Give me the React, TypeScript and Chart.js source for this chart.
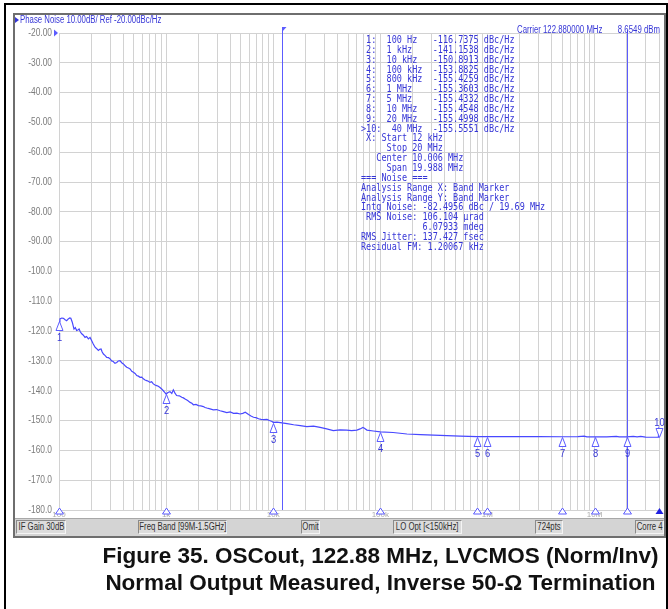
import React, { useEffect, useRef } from "react";
import { Chart, registerables } from "chart.js";

Chart.register(...registerables);

// ---------- data ----------
const traceFreqHz = [
  100, 102, 106, 110, 114, 118, 122, 126, 129, 133, 138, 142, 146, 150, 154, 158, 163, 168, 175, 181,
  188, 195, 202, 209, 217, 225, 233, 240, 247, 253, 260, 270, 279, 290, 300, 310, 321, 333, 346, 358,
  371, 385, 399, 414, 429, 445, 461, 478, 495, 513, 532, 551, 571, 592, 613, 636, 659, 683, 707, 733,
  760, 788, 817, 846, 877, 909, 942, 975, 1000, 1040, 1087, 1130, 1168, 1210, 1254, 1330, 1400, 1450,
  1505, 1590, 1676, 1740, 1798, 1900, 2003, 2110, 2230, 2310, 2397, 2570, 2760, 2960, 3190, 3430, 3690,
  3960, 4260, 4580, 4910, 5200, 5480, 5890, 6200, 6550, 6900, 7300, 7700, 8130, 8740, 9200, 9750, 10000,
  10850, 12090, 13460, 15520, 17890, 20600, 23800, 27400, 31600, 36400, 42000, 48600, 54000, 60400,
  64800, 68800, 71000, 75000, 86000, 100000, 131600, 177200, 236900, 362700, 556300, 800000, 1000000,
  1500000, 2000000, 3000000, 5000000, 7000000, 8000000, 8500000, 10000000, 13000000, 16000000, 17000000,
  20000000, 23000000, 25000000, 27000000, 30000000, 35000000, 39500000, 40000000,
];
const traceDbcHz = [
  -116.8, -115.9, -115.6, -115.7, -116.2, -116.5, -115.9, -115.6, -115.7, -117.0, -119.3, -118.8, -119.8, -119.6, -119.3, -120.2, -120.9, -121.3, -122.1, -121.8,
  -122.6, -122.1, -123.2, -124.3, -125.4, -125.9, -126.5, -126.1, -126.0, -127.0, -127.7, -128.2, -128.8, -128.9, -129.3, -130.0, -130.2, -130.8, -130.5, -130.0,
  -129.9, -130.6, -131.0, -131.6, -132.1, -132.4, -132.7, -133.5, -133.8, -134.2, -134.9, -135.1, -135.5, -135.4, -136.0, -136.4, -136.6, -136.8, -137.2, -137.0,
  -137.7, -138.1, -138.3, -138.5, -138.9, -139.4, -140.0, -140.6, -141.1, -140.6, -140.3, -140.9, -139.7, -140.8, -141.6, -141.7, -142.2, -142.4,
  -142.8, -143.3, -143.9, -144.2, -144.7, -144.6, -145.0, -145.1, -145.3, -145.6, -145.8, -146.1, -146.4, -146.3, -146.7, -147.0, -147.3,
  -147.1, -147.6, -147.5, -147.8, -147.6, -147.2, -148.0, -148.5, -148.9, -149.0, -149.4, -149.6, -149.7, -149.6, -150.0, -150.3, -150.6,
  -150.5, -150.8, -151.0, -151.4, -151.7, -152.0, -151.9, -152.3, -152.8, -153.4, -153.1, -153.2, -153.4, -153.2,
  -152.8, -152.3, -152.6, -153.2, -153.5, -153.8, -154.0, -154.5, -154.7, -155.0, -155.2, -155.4, -155.36,
  -155.4, -155.4, -155.42, -155.43, -155.4, -155.25, -155.45, -155.45, -155.5, -155.3, -155.5,
  -155.5, -155.3, -155.5, -155.3, -155.55, -155.6, -155.55, -152.0,
];

const markerIds = ["1", "2", "3", "4", "5", "6", "7", "8", "9", "10"];
const markerFreqHz = [100, 1e3, 1e4, 1e5, 8e5, 1e6, 5e6, 1e7, 2e7, 4e7];
const markerFreqText = ["100 Hz", "1 kHz", "10 kHz", "100 kHz", "800 kHz", "1 MHz", "5 MHz", "10 MHz", "20 MHz", "40 MHz"];
const markerDbcHz = [-116.7375, -141.1538, -150.8913, -153.8825, -155.4259, -155.3603, -155.4332, -155.4548, -155.4998, -155.5551];

const yTickValues = [-20, -30, -40, -50, -60, -70, -80, -90, -100, -110, -120, -130, -140, -150, -160, -170, -180];
const yTickLabels = ["-20.00", "-30.00", "-40.00", "-50.00", "-60.00", "-70.00", "-80.00", "-90.00", "-100.0", "-110.0", "-120.0", "-130.0", "-140.0", "-150.0", "-160.0", "-170.0", "-180.0"];
const xTickValues = [100, 1e3, 1e4, 1e5, 1e6, 1e7];
const xTickLabels = ["100", "1k", "10k", "100k", "1M", "10M"];

const refLevelDb = -20;
const bandStartHz = 12e3;
const bandStopHz = 20e6;
const xMinHz = 100;
const xMaxHz = 40e6;

const headerText = "Phase Noise 10.00dB/ Ref -20.00dBc/Hz";
const carrierText = "Carrier 122.880000 MHz";
const carrierPowerText = "8.6549 dBm";
const noiseSummaryLines = [
  " X: Start 12 kHz",
  "     Stop 20 MHz",
  "   Center 10.006 MHz",
  "     Span 19.988 MHz",
  "=== Noise ===",
  "Analysis Range X: Band Marker",
  "Analysis Range Y: Band Marker",
  "Intg Noise: -82.4956 dBc / 19.69 MHz",
  " RMS Noise: 106.104 \u00b5rad",
  "            6.07933 mdeg",
  "RMS Jitter: 137.427 fsec",
  "Residual FM: 1.20067 kHz",
];
const statusLabels = ["IF Gain 30dB", "Freq Band [99M-1.5GHz]", "Omit", "LO Opt [<150kHz]", "724pts", "Corre 4"];
const captionLines = [
  "Figure 35. OSCout, 122.88 MHz, LVCMOS (Norm/Inv)",
  "Normal Output Measured, Inverse 50-\u03a9 Termination",
];

// ---------- styles ----------
const TRACE_BLUE = "#4848ff";
const LINE_BLUE = "#5c5cff";
const TEXT_BLUE = "#3535d6";
const GRID = "#d2d2d2";
const SANS = '"Liberation Sans", Arial, sans-serif';
const SQUEEZE = 0.78;

function pad(s: string, n: number) {
  return s.length >= n ? s : s + " ".repeat(n - s.length);
}

const markerTableLines = markerIds.map((id, i) => {
  const idTxt = (i === 9 ? ">" : " ") + id + ":";
  const head = pad(idTxt, 4) + (i === 9 ? "  " : " ");
  return pad(head + markerFreqText[i], 14) + markerDbcHz[i].toFixed(4) + " dBc/Hz";
});
const tableLines = [...markerTableLines, ...noiseSummaryLines];

const statusBoxes = [
  { left: 16, width: 50 },
  { left: 138, width: 89 },
  { left: 301, width: 19 },
  { left: 393, width: 69 },
  { left: 535, width: 28 },
  { left: 635, width: 29 },
];

function NarrowText(props: { text: string; left?: number; right?: number; top: number; color: string; size?: number }) {
  const { text, left, right, top, color, size = 10 } = props;
  const style: any = {
    position: "absolute",
    top,
    font: `${size}px ${SANS}`,
    lineHeight: "12px",
    color,
    whiteSpace: "nowrap",
    transform: `scaleX(${SQUEEZE})`,
    transformOrigin: right !== undefined ? "100% 0" : "0 0",
  };
  if (left !== undefined) style.left = left;
  if (right !== undefined) style.right = right;
  return <div style={style}>{text}</div>;
}

export default function App() {
  const canvasRef = useRef<HTMLCanvasElement>(null);

  useEffect(() => {
    const canvas = canvasRef.current;
    if (!canvas) return;

    const decor = {
      id: "decor",
      afterDraw(chart: any) {
        const { ctx, chartArea: a, scales } = chart;
        const ys = scales.y;
        ctx.save();
        ctx.fillStyle = "#7c7c7c";
        ctx.font = `10px ${SANS}`;
        ctx.textAlign = "right";
        ctx.textBaseline = "middle";
        yTickValues.forEach((v, i) => {
          const py = ys.getPixelForValue(v);
          ctx.save();
          ctx.translate(a.left - 7, py);
          ctx.scale(0.84, 1);
          ctx.fillText(yTickLabels[i], 0, 0);
          ctx.restore();
        });
        ctx.restore();
      },
      afterDatasetsDraw(chart: any) {
        const { ctx, chartArea: a, scales } = chart;
        const xs = scales.x;
        const ys = scales.y;
        ctx.save();
        ctx.lineWidth = 1;
        ctx.strokeStyle = LINE_BLUE;
        ctx.fillStyle = LINE_BLUE;
        const xb1 = Math.round(xs.getPixelForValue(bandStartHz)) + 0.5;
        const xb2 = Math.round(xs.getPixelForValue(bandStopHz)) + 0.5;
        ctx.beginPath();
        ctx.moveTo(xb1, a.top - 4);
        ctx.lineTo(xb1, a.bottom);
        ctx.moveTo(xb2, a.top - 3);
        ctx.lineTo(xb2, a.bottom);
        ctx.stroke();
        // flag at band start
        ctx.beginPath();
        ctx.moveTo(xb1 - 0.5, a.top - 6);
        ctx.lineTo(xb1 + 4, a.top - 6);
        ctx.lineTo(xb1 - 0.5, a.top - 1);
        ctx.closePath();
        ctx.fill();
        // reference level arrow
        const yr = ys.getPixelForValue(refLevelDb);
        ctx.beginPath();
        ctx.moveTo(a.left - 5, yr - 3.5);
        ctx.lineTo(a.left - 1, yr);
        ctx.lineTo(a.left - 5, yr + 3.5);
        ctx.closePath();
        ctx.fill();

        ctx.font = `11px ${SANS}`;
        ctx.textAlign = "center";
        ctx.textBaseline = "middle";
        markerFreqHz.forEach((f, i) => {
          const px = Math.round(xs.getPixelForValue(f)) + 0.5;
          const py = Math.round(ys.getPixelForValue(markerDbcHz[i])) + 0.5;
          const last = i === markerFreqHz.length - 1;
          ctx.strokeStyle = LINE_BLUE;
          ctx.fillStyle = "#ffffff";
          ctx.beginPath();
          if (!last) {
            ctx.moveTo(px, py);
            ctx.lineTo(px - 3.5, py + 9);
            ctx.lineTo(px + 3.5, py + 9);
          } else {
            ctx.moveTo(px, py);
            ctx.lineTo(px - 3.5, py - 9);
            ctx.lineTo(px + 3.5, py - 9);
          }
          ctx.closePath();
          ctx.fill();
          ctx.stroke();
          ctx.fillStyle = TEXT_BLUE;
          ctx.save();
          ctx.translate(px, last ? py - 15 : py + 16);
          ctx.scale(0.85, 1);
          ctx.fillText(markerIds[i], 0, 0);
          ctx.restore();

          // bottom marker triangles
          const by = a.bottom;
          ctx.beginPath();
          ctx.moveTo(px, by - 2);
          ctx.lineTo(px - 4, by + 4);
          ctx.lineTo(px + 4, by + 4);
          ctx.closePath();
          if (last) {
            ctx.fillStyle = "#2020e0";
            ctx.fill();
          } else {
            ctx.fillStyle = "#ffffff";
            ctx.fill();
            ctx.stroke();
          }
        });
        ctx.restore();
      },
    };

    const chart = new Chart(canvas, {
      type: "line",
      data: {
        datasets: [
          {
            data: traceFreqHz.map((f, i) => ({ x: f, y: traceDbcHz[i] })),
            borderColor: TRACE_BLUE,
            borderWidth: 1.2,
            pointRadius: 0,
            tension: 0,
            fill: false,
          },
        ],
      },
      options: {
        animation: false,
        responsive: false,
        devicePixelRatio: 1,
        layout: { padding: { left: 0, right: 9, top: 33, bottom: 87 } },
        plugins: { legend: { display: false }, tooltip: { enabled: false }, title: { display: false } },
        scales: {
          x: {
            type: "logarithmic",
            min: xMinHz,
            max: xMaxHz,
            border: { display: false },
            grid: { color: GRID, drawTicks: false, lineWidth: 1 },
            afterBuildTicks: (scale: any) => {
              const t: { value: number }[] = [];
              for (let d = 100; d <= 1e7; d *= 10) {
                for (let m = 1; m <= 9; m++) {
                  const v = m * d;
                  if (v <= xMaxHz) t.push({ value: v });
                }
              }
              scale.ticks = t;
            },
            afterFit: (scale: any) => {
              scale.height = 12;
            },
            ticks: {
              autoSkip: false,
              maxRotation: 0,
              padding: 0,
              color: "#ababab",
              font: { size: 8, family: SANS },
              callback: (v: any) => {
                const i = xTickValues.indexOf(Number(v));
                return i >= 0 ? xTickLabels[i] : "";
              },
            },
          },
          y: {
            type: "linear",
            min: -180,
            max: -20,
            border: { display: false },
            grid: { color: GRID, drawTicks: false, lineWidth: 1 },
            afterFit: (scale: any) => {
              scale.width = 59;
            },
            ticks: {
              stepSize: 10,
              padding: 7,
              color: "rgba(0,0,0,0)",
              font: { size: 10, family: SANS },
              callback: (v: any) => {
                const i = yTickValues.indexOf(Number(v));
                return i >= 0 ? yTickLabels[i] : "";
              },
            },
          },
        },
      },
      plugins: [decor],
    } as any);

    return () => chart.destroy();
  }, []);

  return (
    <div style={{ position: "absolute", left: 0, top: 0, width: 668, height: 609, background: "#fff", overflow: "hidden" }}>
      {/* outer frame */}
      <div style={{ position: "absolute", left: 4, top: 3, width: 660, height: 640, border: "2px solid #000" }} />
      {/* instrument panel */}
      <div style={{ position: "absolute", left: 13, top: 13, width: 649, height: 521, border: "2px solid #6e6e6e", background: "#fff" }} />
      {/* status bar */}
      <div style={{ position: "absolute", left: 15, top: 518, width: 649, height: 17, background: "#d4d4d4", borderTop: "1px solid #a8a8a8" }}>
        {statusLabels.map((s, i) => (
          <div
            key={i}
            style={{
              position: "absolute",
              left: statusBoxes[i].left - 15,
              top: 1,
              width: statusBoxes[i].width,
              height: 14,
              boxSizing: "border-box",
              borderTop: "1px solid #8a8a8a",
              borderLeft: "1px solid #8a8a8a",
              borderBottom: "1px solid #f4f4f4",
              borderRight: "1px solid #f4f4f4",
              background: "#dcdcdc",
              display: "flex",
              justifyContent: "center",
              alignItems: "center",
            }}
          >
            <span
              style={{
                display: "inline-block",
                font: `10px ${SANS}`,
                color: "#303030",
                lineHeight: "12px",
                whiteSpace: "nowrap",
                transform: `scaleX(${SQUEEZE})`,
                transformOrigin: "50% 50%",
              }}
            >
              {s}
            </span>
          </div>
        ))}
      </div>
      <canvas ref={canvasRef} width={668} height={609} style={{ position: "absolute", left: 0, top: 0, width: 668, height: 609 }} />
      {/* header */}
      <div style={{ position: "absolute", left: 15, top: 17, width: 0, height: 0, borderTop: "3px solid transparent", borderBottom: "3px solid transparent", borderLeft: `4px solid ${TEXT_BLUE}` }} />
      <NarrowText text={headerText} left={20} top={14} color={TEXT_BLUE} />
      <NarrowText text={carrierText} left={517} top={24} color={TEXT_BLUE} />
      <NarrowText text={carrierPowerText} right={668 - 660} top={24} color={TEXT_BLUE} />
      {/* marker table */}
      <div
        style={{
          position: "absolute",
          left: 361,
          top: 35,
          transform: "scaleX(0.85)",
          transformOrigin: "0 0",
          font: '10px "DejaVu Sans Mono", monospace',
          lineHeight: "9.85px",
          color: TEXT_BLUE,
          whiteSpace: "pre",
        }}
      >
        {tableLines.map((l, i) => (
          <div key={i} style={{ height: 9.85 }}>{l}</div>
        ))}
      </div>
      {/* caption */}
      {captionLines.map((c, i) => (
        <div
          key={i}
          style={{
            position: "absolute",
            left: 80,
            width: 601,
            top: 543 + i * 27,
            textAlign: "center",
            font: `bold 22.5px ${SANS}`,
            lineHeight: "26px",
            color: "#111",
            whiteSpace: "nowrap",
          }}
        >
          {c}
        </div>
      ))}
    </div>
  );
}
